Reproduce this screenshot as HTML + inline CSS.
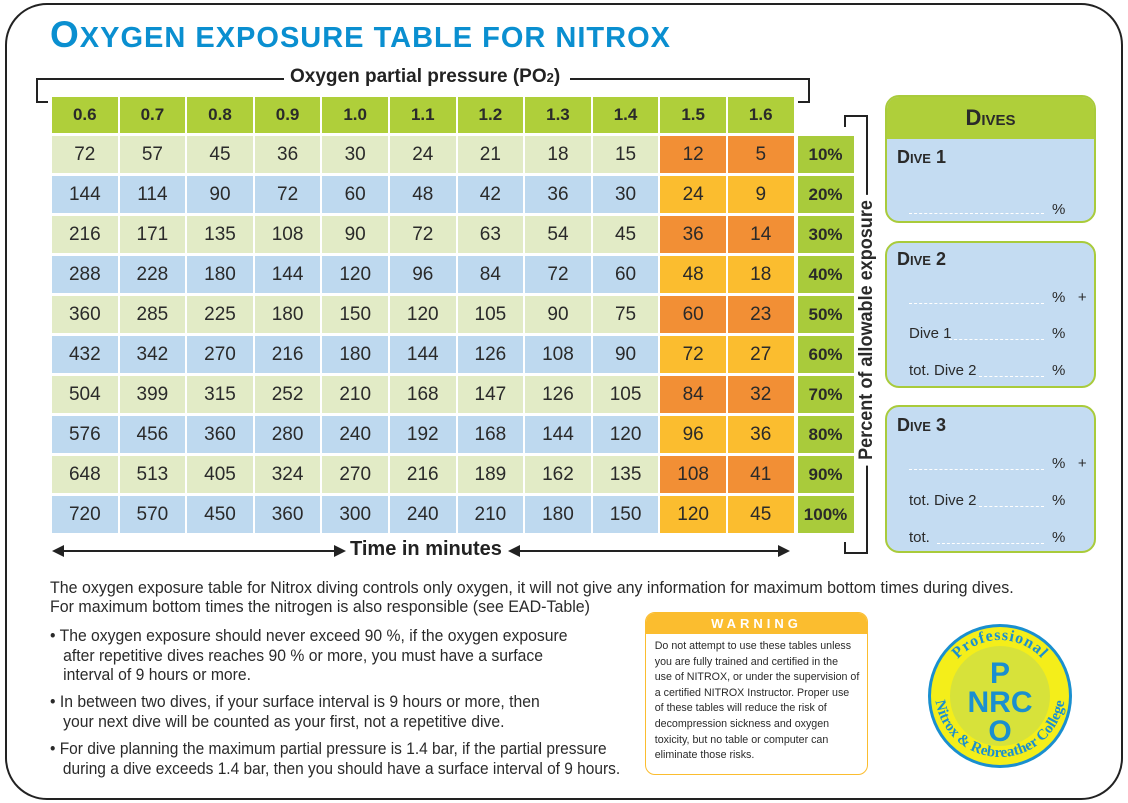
<!DOCTYPE html>
<html><head><meta charset="utf-8"><style>
*{margin:0;padding:0;box-sizing:border-box}
body{width:1128px;height:803px;background:#fff;position:relative;overflow:hidden;font-family:"Liberation Sans",sans-serif;color:#2a2a2a}
.frame{position:absolute;left:5px;top:3px;width:1118px;height:797px;border:2px solid #222;border-radius:42px}
.title{position:absolute;left:50px;top:14px;font-weight:bold;color:#0a8fd0;font-size:29px;letter-spacing:1px;font-variant:small-caps;white-space:nowrap}
.title b{font-size:37px}
.grid{position:absolute;left:52px;top:97px;display:grid;grid-template-columns:repeat(11,65.6px) 58px;grid-template-rows:36px repeat(10,37px);column-gap:2px;row-gap:3px}
.grid div{display:flex;align-items:center;justify-content:center;font-size:19px}
.h{background:#afcf3a;font-weight:bold;font-size:17px!important}
.e{background:transparent}
.g{background:#e2ebc6}.b{background:#bed9ef}.o{background:#f28f35}.y{background:#fbbd2f}
.p{background:#a9cb3b;font-weight:bold;font-size:17px!important;margin-left:2px}
.lbl{position:absolute;font-weight:bold;font-size:19px;color:#222;background:#fff;padding:0 6px;white-space:nowrap}
.ln{position:absolute;background:#222}
.dives{position:absolute;left:885px;width:211px;background:#c4dcf2;border:2px solid #a9cb3b;border-radius:14px}
.dh{font-weight:bold;font-variant:small-caps;font-size:18px;position:absolute;left:10px}
.dl{position:absolute;font-size:15px}
.dash{position:absolute;border-bottom:1px dashed #fff;height:1px}
.sc{position:absolute;left:50px;white-space:nowrap;transform-origin:0 0;transform:scaleX(0.94);font-size:17px}
.warn{position:absolute;left:645px;top:612px;width:223px;height:163px;border:1.5px solid #fbbd2f;border-radius:10px;overflow:hidden}
.warn .wh{background:#fbbd2f;color:#fff;font-weight:bold;text-align:center;letter-spacing:4px;font-size:13px;height:21px;line-height:21px}
.warn .wt{padding:5px 0 0 9px;font-size:11px;line-height:15.6px;white-space:nowrap;transform-origin:0 0;transform:scaleX(0.97)}
</style></head><body>
<div class="frame"></div>
<div class="title"><b>O</b>XYGEN EXPOSURE TABLE FOR NITROX</div>

<div class="ln" style="left:36px;top:78px;width:248px;height:2px"></div>
<div class="ln" style="left:36px;top:78px;width:2px;height:25px"></div>
<div class="ln" style="left:36px;top:101px;width:12px;height:2px"></div>
<div class="lbl" style="left:284px;top:66px">Oxygen partial pressure (PO<span style="font-size:13px">2</span>)</div>
<div class="ln" style="left:570px;top:78px;width:240px;height:2px"></div>
<div class="ln" style="left:808px;top:78px;width:2px;height:25px"></div>
<div class="ln" style="left:798px;top:101px;width:12px;height:2px"></div>

<div class="grid">
<div class="h">0.6</div><div class="h">0.7</div><div class="h">0.8</div><div class="h">0.9</div><div class="h">1.0</div><div class="h">1.1</div><div class="h">1.2</div><div class="h">1.3</div><div class="h">1.4</div><div class="h">1.5</div><div class="h">1.6</div><div class="e"></div>
<div class="g">72</div><div class="g">57</div><div class="g">45</div><div class="g">36</div><div class="g">30</div><div class="g">24</div><div class="g">21</div><div class="g">18</div><div class="g">15</div><div class="o">12</div><div class="o">5</div><div class="p">10%</div>
<div class="b">144</div><div class="b">114</div><div class="b">90</div><div class="b">72</div><div class="b">60</div><div class="b">48</div><div class="b">42</div><div class="b">36</div><div class="b">30</div><div class="y">24</div><div class="y">9</div><div class="p">20%</div>
<div class="g">216</div><div class="g">171</div><div class="g">135</div><div class="g">108</div><div class="g">90</div><div class="g">72</div><div class="g">63</div><div class="g">54</div><div class="g">45</div><div class="o">36</div><div class="o">14</div><div class="p">30%</div>
<div class="b">288</div><div class="b">228</div><div class="b">180</div><div class="b">144</div><div class="b">120</div><div class="b">96</div><div class="b">84</div><div class="b">72</div><div class="b">60</div><div class="y">48</div><div class="y">18</div><div class="p">40%</div>
<div class="g">360</div><div class="g">285</div><div class="g">225</div><div class="g">180</div><div class="g">150</div><div class="g">120</div><div class="g">105</div><div class="g">90</div><div class="g">75</div><div class="o">60</div><div class="o">23</div><div class="p">50%</div>
<div class="b">432</div><div class="b">342</div><div class="b">270</div><div class="b">216</div><div class="b">180</div><div class="b">144</div><div class="b">126</div><div class="b">108</div><div class="b">90</div><div class="y">72</div><div class="y">27</div><div class="p">60%</div>
<div class="g">504</div><div class="g">399</div><div class="g">315</div><div class="g">252</div><div class="g">210</div><div class="g">168</div><div class="g">147</div><div class="g">126</div><div class="g">105</div><div class="o">84</div><div class="o">32</div><div class="p">70%</div>
<div class="b">576</div><div class="b">456</div><div class="b">360</div><div class="b">280</div><div class="b">240</div><div class="b">192</div><div class="b">168</div><div class="b">144</div><div class="b">120</div><div class="y">96</div><div class="y">36</div><div class="p">80%</div>
<div class="g">648</div><div class="g">513</div><div class="g">405</div><div class="g">324</div><div class="g">270</div><div class="g">216</div><div class="g">189</div><div class="g">162</div><div class="g">135</div><div class="o">108</div><div class="o">41</div><div class="p">90%</div>
<div class="b">720</div><div class="b">570</div><div class="b">450</div><div class="b">360</div><div class="b">300</div><div class="b">240</div><div class="b">210</div><div class="b">180</div><div class="b">150</div><div class="y">120</div><div class="y">45</div><div class="p">100%</div>
</div>

<div class="ln" style="left:844px;top:115px;width:24px;height:2px"></div>
<div class="ln" style="left:866px;top:115px;width:2px;height:439px"></div>
<div class="ln" style="left:844px;top:552px;width:24px;height:2px"></div>
<div class="ln" style="left:844px;top:115px;width:2px;height:12px"></div>
<div class="ln" style="left:844px;top:542px;width:2px;height:12px"></div>
<div style="position:absolute;left:867px;top:330px;transform:translate(-50%,-50%) rotate(-90deg) scaleX(0.95);font-weight:bold;font-size:19px;white-space:nowrap;background:#fff;padding:0 6px">Percent of allowable exposure</div>

<div class="ln" style="left:60px;top:550px;width:280px;height:2px"></div>
<div style="position:absolute;left:52px;top:545px;border-right:12px solid #222;border-top:6px solid transparent;border-bottom:6px solid transparent"></div>
<div style="position:absolute;left:334px;top:545px;border-left:12px solid #222;border-top:6px solid transparent;border-bottom:6px solid transparent"></div>
<div class="lbl" style="left:346px;top:538px;padding:0 4px;font-size:20px">Time in minutes</div>
<div class="ln" style="left:518px;top:550px;width:262px;height:2px"></div>
<div style="position:absolute;left:508px;top:545px;border-right:12px solid #222;border-top:6px solid transparent;border-bottom:6px solid transparent"></div>
<div style="position:absolute;left:778px;top:545px;border-left:12px solid #222;border-top:6px solid transparent;border-bottom:6px solid transparent"></div>

<div class="dives" style="top:95px;height:128px;overflow:hidden">
<div style="background:#afcf3a;height:42px;text-align:center;line-height:42px;font-weight:bold;font-variant:small-caps;font-size:22px">Dives</div>
<div class="dh" style="top:50px">Dive 1</div>
<div class="dash" style="left:22px;top:116px;width:135px"></div><div class="dl" style="left:165px;top:104px">%</div>
</div>
<div class="dives" style="top:241px;height:147px">
<div class="dh" style="top:6px">Dive 2</div>
<div class="dash" style="left:22px;top:60px;width:135px"></div><div class="dl" style="left:165px;top:46px">% &nbsp;&nbsp;+</div>
<div class="dl" style="left:22px;top:82px">Dive 1</div><div class="dash" style="left:62px;top:96px;width:95px"></div><div class="dl" style="left:165px;top:82px">%</div>
<div class="dl" style="left:22px;top:119px">tot. Dive 2</div><div class="dash" style="left:92px;top:133px;width:65px"></div><div class="dl" style="left:165px;top:119px">%</div>
</div>
<div class="dives" style="top:405px;height:148px">
<div class="dh" style="top:8px">Dive 3</div>
<div class="dash" style="left:22px;top:62px;width:135px"></div><div class="dl" style="left:165px;top:48px">% &nbsp;&nbsp;+</div>
<div class="dl" style="left:22px;top:85px">tot. Dive 2</div><div class="dash" style="left:92px;top:99px;width:65px"></div><div class="dl" style="left:165px;top:85px">%</div>
<div class="dl" style="left:22px;top:122px">tot.</div><div class="dash" style="left:50px;top:136px;width:107px"></div><div class="dl" style="left:165px;top:122px">%</div>
</div>

<div class="sc" style="top:578px;line-height:19px">The oxygen exposure table for Nitrox diving controls only oxygen, it will not give any information for maximum bottom times during dives.<br>For maximum bottom times the nitrogen is also responsible (see EAD-Table)</div>
<div class="sc" style="top:626px;line-height:19.5px;transform:scaleX(0.925)">• The oxygen exposure should never exceed 90 %, if the oxygen exposure<br>&nbsp;&nbsp;&nbsp;after repetitive dives reaches 90 % or more, you must have a surface<br>&nbsp;&nbsp;&nbsp;interval of 9 hours or more.</div>
<div class="sc" style="top:692px;line-height:20px;transform:scaleX(0.925)">• In between two dives, if your surface interval is 9 hours or more, then<br>&nbsp;&nbsp;&nbsp;your next dive will be counted as your first, not a repetitive dive.</div>
<div class="sc" style="top:739px;line-height:20px;transform:scaleX(0.91)">• For dive planning the maximum partial pressure is 1.4 bar, if the partial pressure<br>&nbsp;&nbsp;&nbsp;during a dive exceeds 1.4 bar, then you should have a surface interval of 9 hours.</div>

<div class="warn"><div class="wh">WARNING</div><div class="wt">Do not attempt to use these tables unless<br>you are fully trained and certified in the<br>use of NITROX, or under the supervision of<br>a certified NITROX Instructor. Proper use<br>of these tables will reduce the risk of<br>decompression sickness and oxygen<br>toxicity, but no table or computer can<br>eliminate those risks.</div></div>

<svg style="position:absolute;left:925px;top:622px" width="150" height="150" viewBox="0 0 150 150">
<circle cx="75" cy="74" r="72" fill="#1a8fcf"/>
<circle cx="75" cy="74" r="69" fill="#f4ee1a"/>
<circle cx="75" cy="74" r="50" fill="#d7e23a"/>
<defs>
<path id="top" d="M19,74 a56,56 0 0,1 112,0"/>
<path id="bot" d="M10,70 a65,65 0 0,0 130,0"/>
</defs>
<text font-family="Liberation Serif,serif" font-weight="bold" font-size="16" fill="#1a8fcf" letter-spacing="1" text-anchor="middle"><textPath href="#top" startOffset="50%">Professional</textPath></text>
<text font-family="Liberation Serif,serif" font-weight="bold" font-size="15" fill="#1a8fcf" text-anchor="middle"><textPath href="#bot" startOffset="50%">Nitrox &amp; Rebreather College</textPath></text>
<text x="75" y="61" text-anchor="middle" font-family="Liberation Sans,sans-serif" font-weight="bold" font-size="30" fill="#1a8fcf">P</text>
<text x="75" y="90" text-anchor="middle" font-family="Liberation Sans,sans-serif" font-weight="bold" font-size="30" fill="#1a8fcf">NRC</text>
<text x="75" y="119" text-anchor="middle" font-family="Liberation Sans,sans-serif" font-weight="bold" font-size="30" fill="#1a8fcf">O</text>
</svg>
</body></html>
